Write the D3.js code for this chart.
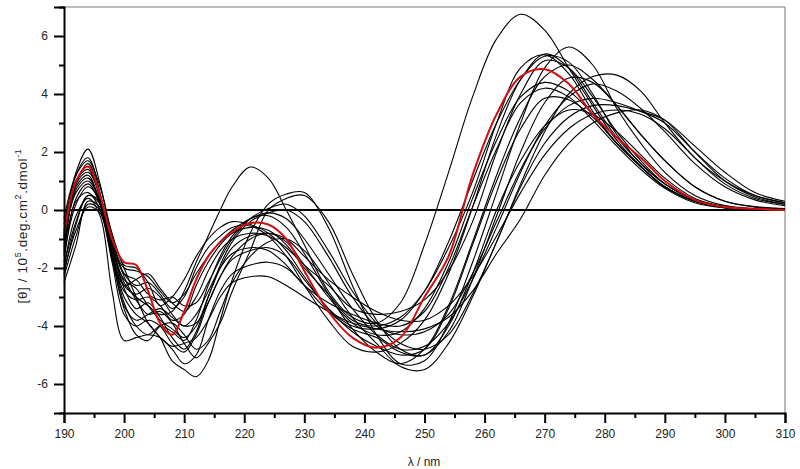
<!DOCTYPE html>
<html>
<head>
<meta charset="utf-8">
<script src="https://cdn.jsdelivr.net/npm/d3@7"></script>
<style>
  body { margin: 0; background: #fff; }
  svg { display: block; font-family: "Liberation Sans", Arial, sans-serif; }
  .tick text { font-size: 12px; fill: #222; }
</style>
</head>
<body>
<svg width="800" height="469"></svg>
<script>
// wavelength grid (nm)
const wavelengths = [190,192,194,196,198,200,202,204,206,208,210,212,214,216,218,221,224,227,230,234,238,242,246,250,254,258,262,266,270,274,278,282,286,290,295,300,305,310];

// highlighted spectrum (red)
const redSeries = [-0.9,1.0,1.5,0.5,-1.0,-1.8,-1.9,-2.8,-3.9,-4.3,-3.5,-2.4,-1.6,-1.1,-0.75,-0.45,-0.5,-1.0,-2.1,-3.5,-4.4,-4.75,-4.4,-3.0,-1.6,1.2,3.3,4.6,4.85,4.35,3.3,2.5,1.8,1.0,0.35,0.1,0.04,0.0];

// the other spectra (black)
const blackSeries = [
  [-1.0,1.2,1.8,0.6,-1.2,-2.5,-3.0,-3.3,-3.6,-3.5,-2.8,-1.8,-0.9,0.0,0.8,1.48,1.1,0.0,-1.2,-2.8,-3.7,-3.9,-3.2,-1.2,1.3,3.9,5.9,6.75,6.2,4.9,3.6,2.4,1.5,0.8,0.3,0.08,0.02,0.0],
  [-1.5,0.8,1.2,0.2,-1.6,-2.8,-3.1,-3.0,-3.3,-3.8,-3.6,-2.6,-1.8,-1.2,-0.8,-0.6,-0.7,-1.2,-2.0,-2.9,-3.8,-4.0,-3.7,-2.8,-1.3,0.6,3.0,4.9,5.35,4.7,3.4,2.3,1.5,0.8,0.3,0.1,0.03,0.0],
  [-0.7,1.3,2.1,0.9,-1.0,-2.2,-2.6,-2.5,-2.9,-3.4,-3.0,-2.0,-1.3,-0.9,-0.6,-0.55,-0.9,-1.6,-2.6,-3.8,-4.7,-4.9,-4.6,-3.8,-2.2,0.1,2.6,4.5,5.38,4.9,3.7,2.5,1.6,0.9,0.35,0.1,0.03,0.0],
  [-2.5,-1.2,0.3,0.1,-0.9,-2.0,-3.0,-3.9,-4.4,-5.2,-5.5,-5.75,-5.2,-3.8,-2.4,-0.8,0.2,0.55,0.6,-0.6,-2.6,-4.3,-5.3,-5.2,-3.9,-1.8,0.6,3.0,4.9,5.62,5.0,3.5,2.3,1.3,0.5,0.15,0.05,0.02],
  [-1.2,0.9,1.6,0.5,-1.4,-2.6,-2.4,-2.2,-2.7,-3.2,-3.5,-3.0,-2.1,-1.4,-1.0,-0.8,-0.9,-1.3,-1.9,-2.6,-3.4,-3.6,-3.5,-3.1,-2.1,-0.4,2.0,4.0,5.15,4.9,3.9,2.7,1.7,0.9,0.35,0.1,0.03,0.0],
  [-0.5,1.0,1.4,0.4,-1.3,-2.4,-2.7,-3.3,-3.8,-4.1,-4.4,-4.0,-3.0,-2.0,-1.3,-0.9,-0.8,-1.1,-1.9,-3.0,-3.9,-4.3,-4.2,-3.4,-1.8,0.4,2.4,3.9,4.4,4.1,3.3,2.3,1.5,0.8,0.3,0.08,0.02,0.0],
  [-1.8,0.4,0.9,0.2,-1.6,-3.3,-3.8,-3.6,-3.4,-3.7,-4.0,-3.6,-2.8,-2.0,-1.5,-1.3,-1.4,-1.9,-2.6,-3.2,-3.6,-3.9,-4.0,-3.5,-2.0,0.1,2.1,3.7,4.2,3.9,3.1,2.2,1.4,0.75,0.25,0.07,0.02,0.0],
  [-1.4,0.3,0.6,0.0,-1.8,-3.6,-4.0,-3.8,-4.0,-4.6,-4.9,-4.3,-3.2,-2.3,-1.7,-1.4,-1.3,-1.6,-2.4,-3.4,-4.2,-4.7,-5.0,-4.8,-3.4,-1.2,1.0,2.8,3.85,3.8,3.2,2.3,1.5,0.8,0.3,0.08,0.02,0.0],
  [-2.0,-0.2,0.4,-0.2,-2.8,-4.5,-4.4,-4.3,-4.4,-4.8,-5.3,-5.0,-3.8,-2.8,-2.2,-1.9,-1.8,-2.0,-2.6,-3.5,-4.1,-4.4,-4.9,-5.0,-4.0,-2.2,0.0,1.7,2.9,3.45,3.3,2.7,1.9,1.1,0.4,0.12,0.04,0.0],
  [-1.0,0.6,1.0,0.3,-1.2,-2.2,-2.4,-2.9,-3.1,-3.0,-3.3,-3.2,-2.5,-1.7,-1.0,-0.3,0.05,0.2,-0.2,-1.4,-2.8,-3.9,-4.6,-4.8,-4.3,-2.9,-1.1,0.9,2.7,4.0,4.6,4.65,4.1,3.0,1.8,1.0,0.5,0.25],
  [-2.2,-0.5,0.5,0.3,-1.0,-2.3,-3.1,-3.6,-3.5,-3.9,-4.6,-5.1,-4.6,-3.9,-2.8,-1.4,0.0,0.4,0.5,-0.4,-2.2,-3.8,-4.8,-5.0,-4.2,-2.4,-0.2,2.0,3.7,4.55,4.4,3.6,2.6,1.7,0.8,0.3,0.1,0.05],
  [-1.6,0.2,0.8,0.3,-1.2,-2.6,-2.9,-2.7,-3.0,-3.6,-4.0,-3.9,-3.2,-2.3,-1.6,-1.0,-0.8,-1.0,-1.6,-2.4,-3.0,-3.5,-3.8,-3.8,-3.3,-2.3,-0.9,0.6,1.9,2.8,3.3,3.45,3.3,2.8,1.8,0.9,0.4,0.2],
  [-2.3,-0.9,0.2,0.0,-1.5,-3.0,-3.6,-3.9,-4.4,-4.7,-4.6,-4.4,-3.8,-3.0,-2.5,-2.3,-2.3,-2.6,-3.0,-3.5,-3.9,-4.1,-4.2,-4.1,-3.7,-2.8,-1.5,-0.3,1.2,2.3,3.0,3.35,3.45,3.1,2.0,1.0,0.45,0.2],
  [-0.8,0.9,1.3,0.5,-1.1,-2.0,-2.1,-2.3,-2.8,-3.2,-2.9,-2.2,-1.6,-1.1,-0.7,-0.3,-0.1,-0.3,-1.0,-2.2,-3.4,-4.3,-4.8,-4.7,-3.9,-2.4,-0.6,1.3,2.9,3.9,4.35,4.1,3.5,2.7,1.6,0.8,0.35,0.15],
  [-0.3,1.2,1.7,0.8,-0.8,-1.9,-2.0,-2.5,-3.3,-3.0,-2.4,-1.6,-1.0,-0.6,-0.4,-0.5,-0.8,-1.4,-2.3,-3.4,-4.0,-4.1,-3.8,-2.8,-1.1,1.0,3.0,4.5,5.3,5.1,4.0,2.6,1.6,0.9,0.35,0.1,0.03,0.0],
  [-1.9,-0.4,0.5,0.2,-1.3,-2.7,-3.4,-3.2,-3.7,-4.4,-4.8,-4.2,-3.0,-1.9,-1.1,-0.4,-0.1,0.0,-0.4,-1.6,-3.0,-4.0,-4.3,-4.2,-3.6,-2.2,-0.4,1.4,2.8,3.6,3.85,3.7,3.4,3.0,2.0,1.1,0.5,0.25],
  [-1.3,0.7,1.1,0.3,-1.5,-3.2,-4.0,-4.3,-4.0,-4.2,-4.5,-3.8,-2.6,-1.6,-0.9,-0.3,-0.2,-0.6,-1.5,-2.9,-4.1,-4.9,-5.3,-4.8,-3.3,-1.1,1.2,3.2,4.6,5.0,4.5,3.6,2.6,1.7,0.8,0.3,0.12,0.05],
  [-2.1,-0.7,0.1,-0.1,-1.7,-3.4,-4.3,-4.5,-4.0,-3.9,-4.3,-4.8,-4.5,-3.5,-2.5,-1.6,-1.1,-1.0,-1.4,-2.5,-3.7,-4.6,-5.4,-5.5,-4.6,-3.0,-1.1,0.8,2.3,3.2,3.6,3.6,3.4,3.1,2.2,1.3,0.6,0.3]
];

const yMajor = [-6,-4,-2,0,2,4,6];
const yMinor = [-7,-5,-3,-1,1,3,5,7];
const xMajor = [190,200,210,220,230,240,250,260,270,280,290,300,310];
const xMinor = [195,205,215,225,235,245,255,265,275,285,295,305];

const svg = d3.select("svg");
const margin = { top: 7, right: 15, bottom: 56, left: 64 };
const W = 800, H = 469;

const x = d3.scaleLinear().domain([190, 310]).range([margin.left, W - margin.right]);
const y = d3.scaleLinear().domain([-7, 7]).range([H - margin.bottom, margin.top]);

// frame (top & right, thin gray)
svg.append("path")
    .attr("d", `M${x(190)},${y(7)}H${x(310)}V${y(-7)}`)
    .attr("fill", "none").attr("stroke", "#777").attr("stroke-width", 1);

// zero line
svg.append("line")
    .attr("x1", x(190)).attr("x2", x(310))
    .attr("y1", y(0)).attr("y2", y(0))
    .attr("stroke", "#000").attr("stroke-width", 2);

const line = d3.line()
    .x((d, i) => x(wavelengths[i]))
    .y(d => y(d))
    .curve(d3.curveCatmullRom.alpha(0.5));

svg.append("g").selectAll("path").data(blackSeries).join("path")
    .attr("d", line)
    .attr("fill", "none")
    .attr("stroke", "#000")
    .attr("stroke-width", 1.1);

svg.append("path")
    .datum(redSeries)
    .attr("d", line)
    .attr("fill", "none")
    .attr("stroke", "#d01010")
    .attr("stroke-width", 2);

// axes
svg.append("g").attr("transform", `translate(${margin.left},0)`)
    .call(d3.axisLeft(y).tickValues(yMajor).tickSize(10).tickPadding(6).tickFormat(d => String(d)));
svg.append("g").attr("transform", `translate(${margin.left},0)`)
    .call(d3.axisLeft(y).tickValues(yMinor).tickSize(5).tickFormat(""))
    .call(g => g.select(".domain").remove());

svg.append("g").attr("transform", `translate(0,${H - margin.bottom})`)
    .call(d3.axisBottom(x).tickValues(xMajor).tickSize(10).tickPadding(6).tickFormat(d => String(d)));
svg.append("g").attr("transform", `translate(0,${H - margin.bottom})`)
    .call(d3.axisBottom(x).tickValues(xMinor).tickSize(5).tickFormat(""))
    .call(g => g.select(".domain").remove());

svg.selectAll(".domain").attr("stroke", "#000").attr("stroke-width", 2);
svg.selectAll(".tick line").attr("stroke", "#000").attr("stroke-width", 2);

// axis titles
svg.append("text")
    .attr("x", 424).attr("y", 466)
    .attr("text-anchor", "middle")
    .attr("font-size", 12).attr("fill", "#222")
    .text("λ / nm");

const yt = svg.append("text")
    .attr("transform", `translate(27,226) rotate(-90)`)
    .attr("text-anchor", "middle")
    .attr("font-size", 13.5).attr("letter-spacing", 0.6).attr("fill", "#222");
yt.append("tspan").text("[θ] / 10");
yt.append("tspan").attr("dy", -6).attr("font-size", 9).text("5");
yt.append("tspan").attr("dy", 6).text(".deg.cm");
yt.append("tspan").attr("dy", -6).attr("font-size", 9).text("2");
yt.append("tspan").attr("dy", 6).text(".dmol");
yt.append("tspan").attr("dy", -6).attr("font-size", 9).text("-1");
</script>
</body>
</html>
